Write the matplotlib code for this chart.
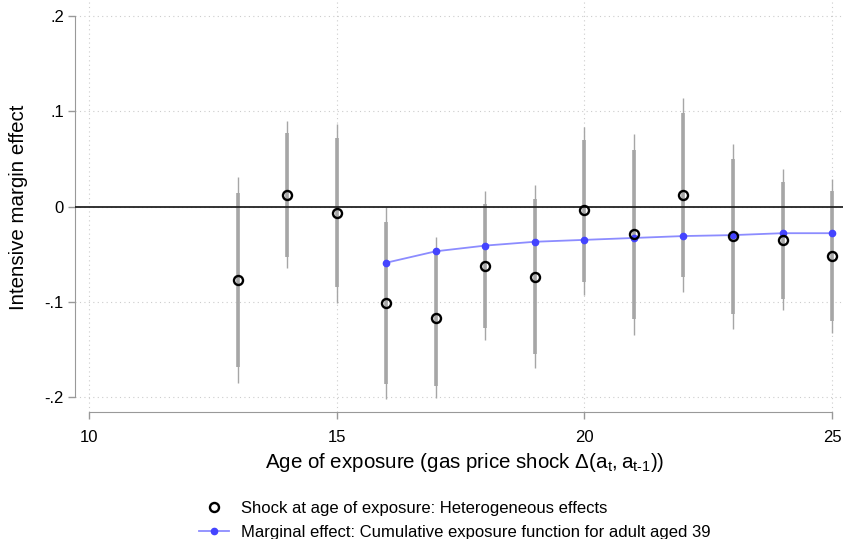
import numpy as np
import matplotlib
matplotlib.use("Agg")
import matplotlib.pyplot as plt

plt.rcParams['font.family'] = ['Liberation Sans', 'DejaVu Sans']
plt.rcParams['mathtext.fontset'] = 'custom'
plt.rcParams['mathtext.rm'] = 'Liberation Sans'

# point estimates by age of exposure
ages = [13, 14, 15, 16, 17, 18, 19, 20, 21, 22, 23, 24, 25]
coef = [-0.077, 0.012, -0.007, -0.101, -0.117, -0.062, -0.074, -0.004, -0.029, 0.012, -0.031, -0.035, -0.052]
ci90_lo = [-0.168, -0.053, -0.085, -0.186, -0.188, -0.128, -0.155, -0.079, -0.118, -0.074, -0.113, -0.097, -0.120]
ci90_hi = [0.014, 0.077, 0.072, -0.016, -0.048, 0.003, 0.008, 0.070, 0.059, 0.098, 0.050, 0.026, 0.016]
ci95_lo = [-0.185, -0.065, -0.101, -0.202, -0.201, -0.140, -0.170, -0.093, -0.135, -0.090, -0.129, -0.109, -0.133]
ci95_hi = [0.031, 0.090, 0.087, 0.000, -0.032, 0.016, 0.023, 0.084, 0.076, 0.114, 0.066, 0.039, 0.029]

# cumulative exposure function, adult aged 39
cum_ages = [16, 17, 18, 19, 20, 21, 22, 23, 24, 25]
cum_eff = [-0.059, -0.047, -0.041, -0.037, -0.035, -0.033, -0.031, -0.030, -0.028, -0.028]

fig = plt.figure(figsize=(8.45, 5.39), dpi=100)
ax = fig.add_axes([75/845, 1-412/539, 768/845, 410/539])

gray = '#a6a6a6'
ax.vlines(ages, ci95_lo, ci95_hi, color=gray, lw=1.0, zorder=2)
ax.vlines(ages, ci90_lo, ci90_hi, color=gray, lw=2.6, zorder=2)
ax.axhline(0, color='#222222', lw=1.3, zorder=3)
ax.plot(cum_ages, cum_eff, color='#8c8cff', lw=1.3, marker='o', ms=4.5,
        mfc='#4444ff', mec='#4444ff', zorder=4,
        label='Marginal effect: Cumulative exposure function for adult aged 39')
ax.plot(ages, coef, ls='none', marker='o', ms=6.5, mfc='none', mec='black', mew=1.7,
        zorder=5, label='Shock at age of exposure: Heterogeneous effects')

ax.set_xlim(9.717, 25.22)
ax.set_ylim(-0.2157, 0.2147)
ax.set_xticks([10, 15, 20, 25])
ax.set_yticks([-0.2, -0.1, 0, 0.1, 0.2])
ax.set_yticklabels(['-.2', '-.1', '0', '.1', '.2'])
ax.grid(True, color='#cccccc', ls=(0, (1, 3)), lw=0.8)
ax.set_axisbelow(True)

for s in ['top', 'right']:
    ax.spines[s].set_visible(False)
ax.spines['left'].set_bounds(-0.2, 0.2)
ax.spines['bottom'].set_bounds(10, 25)
ax.spines['left'].set_color('#999999')
ax.spines['bottom'].set_color('#999999')
ax.tick_params(axis='both', direction='out', length=5, color='#999999', width=1,
               labelsize=12)
ax.tick_params(axis='x', pad=8)
ax.tick_params(axis='y', pad=3)

fig.text(19/845, 1-207/539, 'Intensive margin effect', rotation=90,
         ha='center', va='center', fontsize=14.8)
fig.text(465/845, 1-463/539,
         r'Age of exposure (gas price shock $\mathregular{\Delta(a_t,a_{t\text{-}1})}$)',
         ha='center', va='center', fontsize=14.8)

h, l = ax.get_legend_handles_labels()
fig.legend(h[::-1], l[::-1], loc='upper left', bbox_to_anchor=(192/845, 1-494/539),
           frameon=False, fontsize=12, handlelength=1.8, labelspacing=0.55,
           handletextpad=0.75, borderaxespad=0)

fig.savefig('out.png', dpi=100)
